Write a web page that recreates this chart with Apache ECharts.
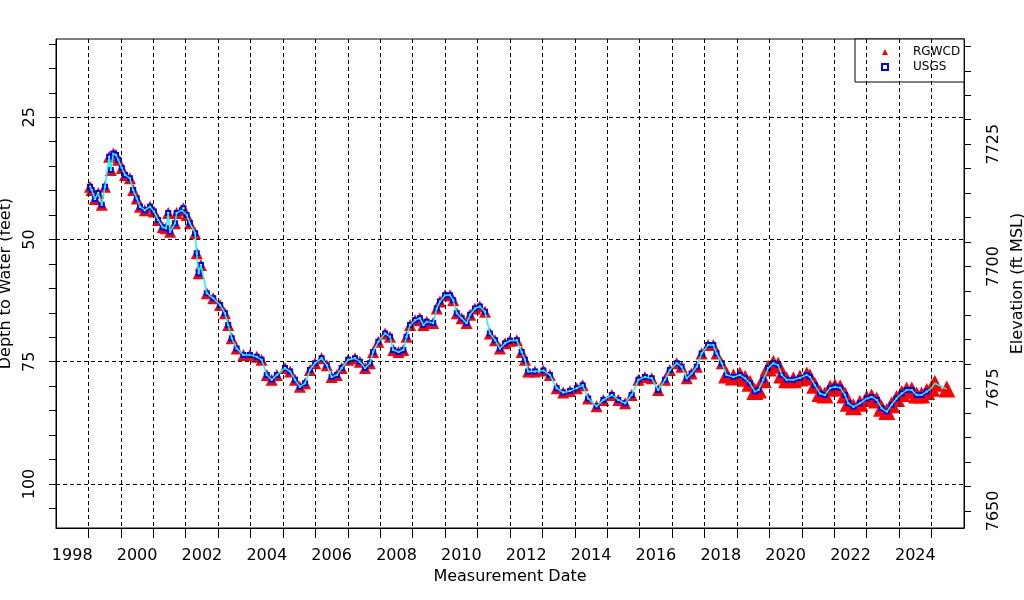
<!DOCTYPE html>
<html>
<head>
<meta charset="utf-8">
<script src="https://cdn.jsdelivr.net/npm/echarts@6/dist/echarts.min.js"></script>
<style>
html,body{margin:0;padding:0;background:#fff;}
#chart{width:1024px;height:600px;}
</style>
</head>
<body>
<div id="chart"></div>
<script>
// Measurement dates (decimal years) and depth to water (feet)
const rgwcdYear = [
1999.05,1999.10,1999.20,1999.30,1999.41,1999.51,1999.64,1999.69,1999.77,1999.85,1999.92,
2000.03,2000.13,2000.28,2000.38,2000.49,2000.59,2000.74,2000.90,
2001.02,2001.15,2001.29,2001.39,2001.46,2001.52,2001.67,2001.72,2001.88,2001.93,
2002.03,2002.13,2002.29,2002.34,2002.40,2002.47,2002.65,2002.85,
2003.06,2003.21,2003.31,2003.42,2003.57,2003.78,2003.98,
2004.19,2004.34,2004.50,2004.65,2004.81,
2005.06,2005.22,2005.37,2005.52,2005.68,2005.83,2005.99,
2006.19,2006.35,2006.50,2006.66,2006.81,
2007.01,2007.22,2007.37,2007.53,2007.68,2007.78,2007.94,
2008.15,2008.30,2008.40,2008.56,2008.71,2008.81,2008.92,
2009.07,2009.22,2009.33,2009.43,2009.63,2009.74,2009.84,
2010.00,2010.15,2010.25,2010.36,2010.51,2010.66,2010.77,2010.92,
2011.07,2011.23,2011.38,2011.54,2011.69,2011.85,
2012.00,2012.21,2012.36,2012.46,2012.56,2012.77,
2013.03,2013.23,2013.44,2013.64,2013.85,
2014.06,2014.24,2014.41,2014.67,2014.88,
2015.14,2015.34,2015.55,2015.75,2015.96,
2016.16,2016.37,2016.57,2016.78,2016.93,
2017.14,2017.29,2017.45,2017.60,2017.76,2017.91,
2018.11,2018.27,2018.37,2018.53,2018.68,2018.89,
2019.09,2019.25,2019.40,2019.55,2019.66,2019.81,2019.96,
2020.12,2020.27,2020.38,2020.53,2020.74,2020.94,
2021.15,2021.25,2021.40,2021.56,2021.71,2021.87,
2022.02,2022.18,2022.33,2022.43,2022.59,2022.79,
2023.00,2023.15,2023.31,2023.46,2023.62,2023.77,2023.92,
2024.08,2024.23,2024.39,2024.54,2024.69,2024.85,
2025.00,2025.10,2025.47
];
const rgwcdDepth = [
39.2,39.9,41.7,40.5,42.9,39.2,33.1,35.8,32.4,32.7,33.7,
35.4,36.8,37.5,39.9,41.6,43.3,44.0,43.3,
44.3,46.0,47.5,47.7,44.6,48.4,46.7,44.6,44.0,43.6,
45.0,46.7,48.7,52.8,56.9,55.2,61.0,62.0,
63.4,65.1,67.5,70.2,72.3,73.6,73.6,
74.0,74.6,77.7,78.7,77.7,
76.3,77.0,78.7,80.1,79.4,76.7,75.3,
74.3,75.7,78.1,77.7,76.3,
74.6,74.3,75.0,76.3,75.3,73.0,70.9,
69.2,69.9,72.6,73.0,72.6,69.9,67.5,
66.5,66.1,67.5,66.8,67.1,64.1,62.7,
61.4,61.4,62.4,65.1,66.1,67.1,65.4,64.1,
63.7,64.8,69.2,70.6,72.3,71.2,
70.7,70.6,73.0,74.6,77.0,77.0,
76.8,77.7,80.4,81.3,81.0,
80.4,79.8,82.5,84.1,82.8,
81.8,82.8,83.5,81.8,78.7,
78.1,78.4,80.8,78.7,76.7,
75.3,76.0,78.4,77.4,76.0,73.3,
71.6,71.6,73.3,75.3,77.7,78.1,
77.7,78.4,79.4,81.1,80.8,78.7,76.3,
75.3,75.7,77.7,78.7,78.7,78.3,
77.7,78.1,79.8,81.5,81.8,80.4,
80.1,80.3,81.8,83.5,84.2,83.5,
82.5,82.2,82.8,84.5,85.2,83.8,82.5,
81.5,80.8,80.8,81.8,81.8,81.1,
80.4,79.4,80.6
];
const usgsLastYear = 2024.9;

// Axis ticks / labels
const xTickYears = [1999,2000,2001,2002,2003,2004,2005,2006,2007,2008,2009,2010,2011,2012,2013,2014,2015,2016,2017,2018,2019,2020,2021,2022,2023,2024,2025];
const xLabelYears = [1998,2000,2002,2004,2006,2008,2010,2012,2014,2016,2018,2020,2022,2024];
const depthTicks = [10,15,20,25,30,35,40,45,50,55,60,65,70,75,80,85,90,95,100,105];
const depthLabels = [25,50,75,100];
const elevTicks = [7650,7655,7660,7665,7670,7675,7680,7685,7690,7695,7700,7705,7710,7715,7720,7725,7730,7735,7740,7745];
const elevLabels = [7650,7675,7700,7725];
const depthMin = 9, depthMax = 109, elevDatum = 7755.5;

const rgwcdData = rgwcdYear.map((y, i) => [y, rgwcdDepth[i]]);
const usgsData = rgwcdData.filter(d => d[0] <= usgsLastYear);

const FONT = 'DejaVu Sans';
const chart = echarts.init(document.getElementById('chart'), null, {renderer: 'canvas'});
const gridLineStyle = {color: '#000', type: [4, 3], width: 1};

chart.setOption({
  animation: false,
  backgroundColor: '#fff',
  textStyle: {fontFamily: FONT, color: '#000'},
  grid: {left: 56, right: 60, top: 39, bottom: 72, show: true, borderColor: '#000', borderWidth: 1, containLabel: false, outerBoundsMode: 'none'},
  legend: {
    left: 855, top: 39, orient: 'vertical',
    data: [{name: 'RGWCD', icon: 'triangle'}, {name: 'USGS'}],
    backgroundColor: '#fff', borderColor: '#000', borderWidth: 1, borderRadius: 0,
    padding: [6, 4, 8, 26], itemGap: 1, itemWidth: 6, itemHeight: 6,
    textStyle: {fontFamily: FONT, fontSize: 12, color: '#000', lineHeight: 14, padding: [0, 0, 0, 20]}
  },
  xAxis: {
    type: 'value', min: 1998, max: 2026,
    name: 'Measurement Date', nameLocation: 'middle', nameGap: 40,
    nameTextStyle: {fontFamily: FONT, fontSize: 16, color: '#000'},
    axisLine: {show: true, lineStyle: {color: '#000', width: 1}},
    axisTick: {show: true, length: 10, customValues: xTickYears, lineStyle: {color: '#000'}},
    axisLabel: {customValues: xLabelYears.map(y => y + 0.5), formatter: v => String(Math.floor(v)), fontFamily: FONT, fontSize: 16, color: '#000', margin: 20},
    splitLine: {show: false}
  },
  yAxis: [
    {
      type: 'value', inverse: true, min: depthMin, max: depthMax, position: 'left',
      name: 'Depth to Water (feet)', nameLocation: 'middle', nameGap: 36, nameRotate: 90,
      nameTextStyle: {fontFamily: FONT, fontSize: 16, color: '#000'},
      axisLine: {show: true, lineStyle: {color: '#000', width: 1}},
      axisTick: {show: true, length: 7, customValues: depthTicks, lineStyle: {color: '#000'}},
      axisLabel: {customValues: depthLabels, formatter: v => String(v), rotate: 90, fontFamily: FONT, fontSize: 16, color: '#000', margin: 18},
      splitLine: {show: false}
    },
    {
      type: 'value', min: elevDatum - depthMax, max: elevDatum - depthMin, position: 'right',
      name: 'Elevation (ft MSL)', nameLocation: 'middle', nameGap: 38, nameRotate: 90,
      nameTextStyle: {fontFamily: FONT, fontSize: 16, color: '#000'},
      axisLine: {show: true, lineStyle: {color: '#000', width: 1}},
      axisTick: {show: true, length: 7, customValues: elevTicks, lineStyle: {color: '#000'}},
      axisLabel: {customValues: elevLabels, formatter: v => String(v), rotate: 90, fontFamily: FONT, fontSize: 16, color: '#000', margin: 22},
      splitLine: {show: false}
    }
  ],
  series: [
    {
      name: 'grid', type: 'line', data: [], z: 1, silent: true,
      markLine: {
        silent: true, symbol: ['none', 'none'], label: {show: false}, animation: false,
        lineStyle: gridLineStyle, emphasis: {disabled: true},
        data: xTickYears.map(y => ({xAxis: y})).concat(depthLabels.map(d => ({yAxis: d})))
      }
    },
    {
      name: 'RGWCD', type: 'scatter', data: rgwcdData, z: 3,
      symbol: 'triangle',
      symbolSize: (v) => v[0] > 2018.6 ? 17 : 12,
      itemStyle: {color: '#ff0000', opacity: 1}
    },
    {
      name: 'USGS', type: 'scatter', data: usgsData, z: 4,
      symbol: 'emptyRect', symbolSize: 4,
      itemStyle: {color: '#0000ff', borderColor: '#0000ff', borderWidth: 1, opacity: 1}
    },
    {
      name: 'line', type: 'line', data: rgwcdData, z: 5, showSymbol: false, symbol: 'none',
      lineStyle: {color: '#00ffff', width: 1.5}, silent: true
    }
  ]
});
</script>
</body>
</html>
